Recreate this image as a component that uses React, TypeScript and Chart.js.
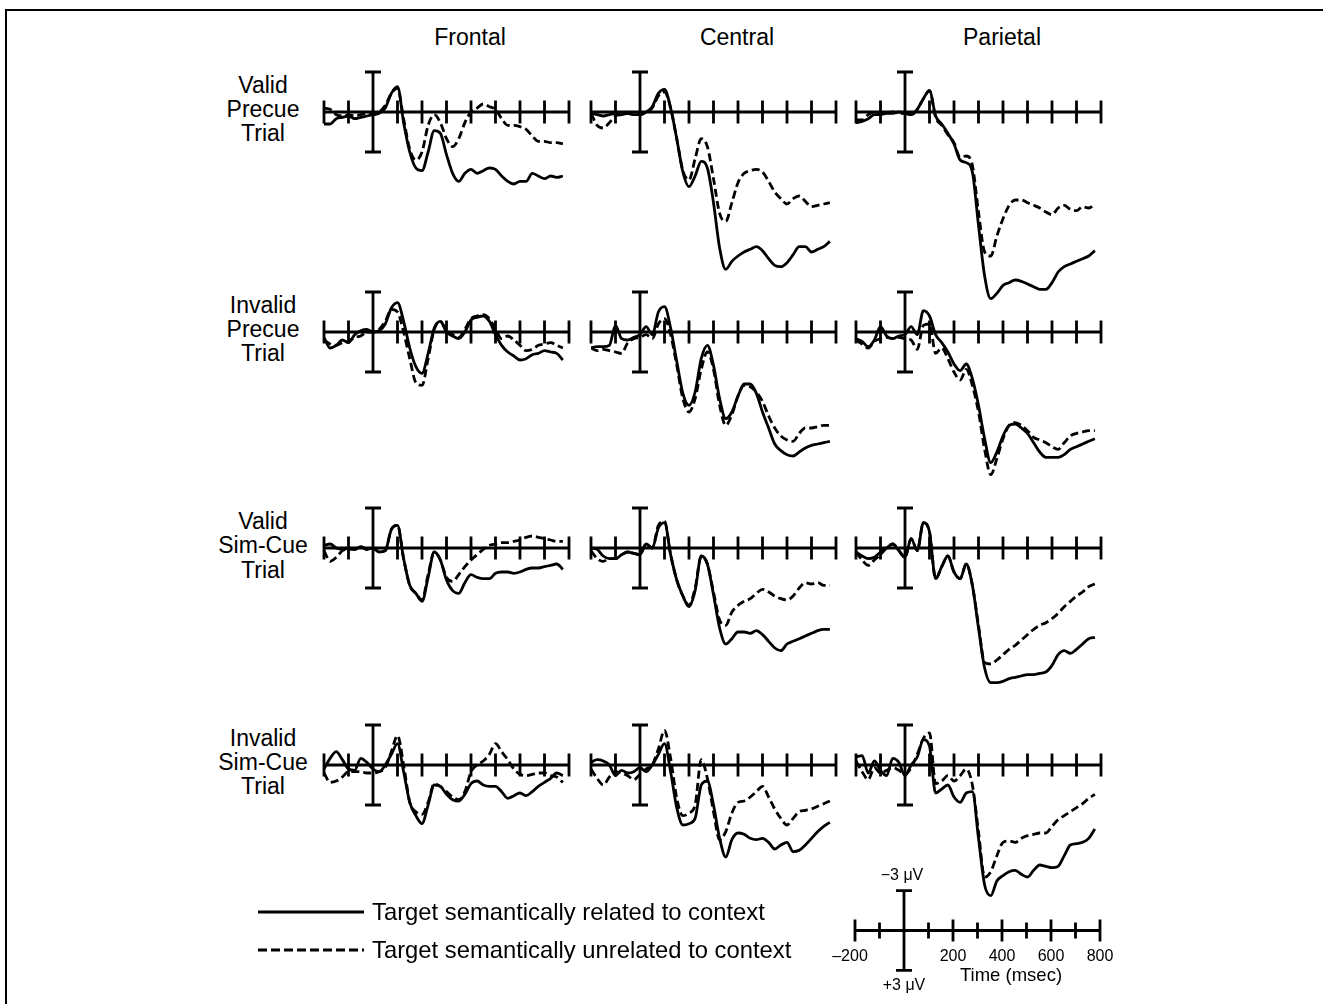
import React, { useEffect, useRef } from 'react';
import { Chart, registerables } from 'chart.js';

Chart.register(...registerables);

// ---------------- DATA ----------------
const TIMES = [-200, -175, -150, -125, -100, -75, -50, -25, 0, 25, 50, 75, 100, 125, 150, 175, 200, 225, 250, 275, 300, 325, 350, 375, 400, 425, 450, 475, 500, 525, 550, 575, 600, 625, 650, 675, 700, 725, 750, 775];
const AXIS_TICKS = [-200, -100, 100, 200, 300, 400, 500, 600, 700, 800];
const SCALE_TICK_LABELS = [-200, 200, 400, 600, 800];
const COLUMN_TITLES = ['Frontal', 'Central', 'Parietal'];
const ROW_TITLES = [
  ['Valid', 'Precue', 'Trial'],
  ['Invalid', 'Precue', 'Trial'],
  ['Valid', 'Sim-Cue', 'Trial'],
  ['Invalid', 'Sim-Cue', 'Trial'],
];
const LEGEND_LABELS = ['Target semantically related to context', 'Target semantically unrelated to context'];

// values in microvolts (negative plotted upward)
const R1F_REL = [0.9, 0.9, 0.5, 0.4, 0.3, 0.5, 0.4, 0.3, 0.2, 0.1, -0.3, -1.4, -1.9, 0.8, 3.0, 4.2, 4.4, 3.0, 1.4, 1.6, 3.2, 4.6, 5.2, 4.6, 4.3, 4.6, 4.4, 4.2, 4.3, 4.8, 5.2, 5.4, 5.2, 5.2, 4.6, 4.8, 5.0, 4.8, 4.9, 4.8];
const R1F_UNREL = [-0.3, -0.2, 0.2, 0.3, 0.2, 0.3, 0.2, 0.1, 0.2, 0.0, -0.5, -1.4, -1.8, 0.5, 2.8, 3.6, 3.0, 1.0, 0.2, 0.8, 2.0, 2.6, 2.0, 0.8, 0.0, -0.3, -0.6, -0.4, -0.2, 0.5, 1.0, 1.0, 1.1, 1.3, 1.8, 2.2, 2.2, 2.3, 2.3, 2.4];
const R1C_REL = [0.1, 0.2, 0.3, 0.2, 0.1, 0.2, 0.1, 0.2, 0.2, 0.0, -0.4, -1.4, -1.7, -0.3, 2.0, 4.5, 5.6, 4.8, 3.7, 4.2, 6.8, 10.2, 11.8, 11.2, 10.8, 10.5, 10.3, 10.1, 10.4, 11.0, 11.5, 11.6, 11.3, 10.7, 10.1, 10.1, 10.5, 10.3, 10.1, 9.7];
const R1C_UNREL = [0.1, 1.0, 1.2, 0.8, 0.3, 0.2, 0.1, 0.2, 0.2, 0.0, -0.3, -1.2, -1.5, -0.3, 2.0, 4.4, 5.1, 3.5, 2.0, 2.6, 5.0, 7.6, 8.2, 6.8, 5.3, 4.6, 4.4, 4.3, 4.5, 5.2, 6.0, 6.5, 6.9, 6.5, 6.3, 6.7, 7.1, 7.0, 6.9, 6.8];
const R1P_REL = [0.8, 0.7, 0.5, 0.2, 0.2, 0.1, 0.1, 0.0, 0.1, 0.2, -0.2, -1.0, -1.6, 0.3, 0.9, 1.6, 2.4, 3.6, 3.8, 4.5, 8.5, 12.3, 14.0, 13.6, 13.0, 12.8, 12.6, 12.7, 12.9, 13.1, 13.3, 13.3, 12.8, 12.0, 11.6, 11.4, 11.2, 11.0, 10.8, 10.4];
const R1P_UNREL = [0.6, 0.6, 0.2, 0.0, 0.1, 0.1, 0.0, 0.1, 0.1, 0.2, -0.2, -1.0, -1.6, 0.4, 1.0, 1.7, 2.3, 3.4, 3.3, 4.0, 7.5, 10.5, 10.8, 9.3, 8.0, 7.0, 6.6, 6.6, 6.8, 7.0, 7.2, 7.5, 7.7, 7.2, 7.0, 7.3, 7.4, 7.1, 7.2, 6.9];

const R2F_REL = [0.4, 1.2, 1.0, 0.6, 0.8, 0.2, -0.1, -0.2, 0.0, -0.1, -0.6, -1.8, -2.2, -0.8, 1.2, 2.6, 3.1, 1.6, -0.3, -0.8, 0.0, 0.3, 0.5, 0.0, -0.9, -1.1, -1.2, -0.8, 0.2, 1.0, 1.5, 1.8, 2.1, 2.0, 1.7, 1.6, 1.4, 1.5, 1.6, 2.1];
const R2F_UNREL = [0.6, 0.9, 1.0, 0.8, 0.7, 0.4, 0.3, 0.0, 0.0, -0.2, -0.8, -1.7, -1.5, 0.0, 2.0, 3.8, 4.0, 2.0, -0.2, -0.8, -0.1, 0.2, 0.4, -0.2, -1.0, -1.2, -1.3, -1.0, -0.2, 0.5, 0.3, 0.6, 1.0, 1.4, 1.3, 1.0, 0.9, 0.8, 1.0, 1.2];
const R2C_REL = [1.2, 1.1, 1.1, 1.0, -0.5, 0.5, 0.6, 0.4, 0.2, -0.4, 0.2, -1.5, -1.9, -0.3, 2.2, 4.6, 5.5, 4.5, 2.0, 1.0, 2.5, 5.0, 6.5, 6.0, 4.8, 3.9, 3.9, 4.6, 6.0, 7.2, 8.4, 8.9, 9.2, 9.3, 9.0, 8.7, 8.5, 8.4, 8.3, 8.2];
const R2C_UNREL = [1.2, 1.4, 1.3, 1.4, 1.5, 1.6, 0.8, 0.5, 0.4, 0.2, 0.5, -0.6, -1.0, 0.2, 2.5, 5.0, 6.0, 5.0, 2.8, 1.5, 2.8, 5.5, 7.0, 6.2, 4.8, 4.0, 4.1, 4.5, 5.2, 6.3, 7.2, 7.8, 8.1, 8.2, 7.6, 7.2, 7.2, 7.1, 7.0, 7.0];
const R2P_REL = [0.5, 0.7, 1.1, 0.6, -0.4, 0.3, 0.5, 0.3, 0.2, -0.4, 0.2, -1.6, -1.2, 0.2, 0.8, 1.5, 2.4, 2.9, 2.4, 3.5, 5.5, 8.0, 9.8, 9.0, 7.8, 7.0, 6.9, 7.2, 7.6, 8.3, 9.0, 9.4, 9.4, 9.4, 9.2, 8.8, 8.6, 8.4, 8.2, 8.0];
const R2P_UNREL = [0.6, 0.9, 1.2, 0.7, 0.5, 0.4, 0.5, 0.4, 0.5, 0.6, 1.3, -0.5, -0.6, 1.6, 1.2, 2.0, 3.0, 3.6, 2.8, 4.0, 6.0, 8.8, 10.7, 9.5, 8.0, 7.0, 6.8, 7.0, 7.4, 7.9, 8.1, 8.3, 8.6, 8.8, 8.3, 7.8, 7.6, 7.5, 7.4, 7.4];

const R3F_REL = [-0.2, -0.3, 0.0, 0.1, 0.0, 0.1, -0.1, 0.1, 0.0, 0.3, 0.2, -1.4, -1.7, 0.8, 2.8, 3.4, 4.0, 2.2, 0.3, 0.9, 2.4, 3.2, 3.4, 2.6, 2.0, 2.2, 2.3, 2.3, 1.9, 1.8, 1.8, 1.9, 1.8, 1.6, 1.5, 1.5, 1.4, 1.3, 1.2, 1.6];
const R3F_UNREL = [0.2, 1.0, 0.7, 0.2, 0.1, 0.1, -0.1, 0.1, 0.0, 0.3, 0.2, -1.4, -1.7, 0.8, 2.8, 3.4, 3.9, 2.0, 0.3, 0.9, 2.2, 2.5, 2.0, 1.4, 0.9, 0.5, 0.1, -0.2, -0.3, -0.4, -0.4, -0.5, -0.6, -0.8, -0.9, -0.8, -0.7, -0.6, -0.5, -0.5];
const R3C_REL = [0.0, 0.1, 0.6, 0.8, 0.8, 0.5, 0.3, 0.4, 0.5, -0.3, 0.0, -1.5, -1.9, 0.5, 2.4, 3.6, 4.4, 3.2, 0.6, 1.2, 3.5, 6.0, 7.2, 6.8, 6.3, 6.3, 6.4, 6.2, 6.5, 7.0, 7.5, 7.7, 7.2, 7.0, 6.8, 6.6, 6.4, 6.2, 6.1, 6.1];
const R3C_UNREL = [0.2, 0.8, 1.0, 0.8, 0.8, 0.5, 0.3, 0.4, 0.5, -0.3, 0.0, -1.7, -2.0, 0.5, 2.4, 3.6, 4.3, 3.0, 0.6, 1.2, 3.3, 5.4, 5.8, 4.8, 4.3, 4.0, 3.8, 3.4, 3.1, 3.3, 3.6, 3.8, 3.9, 3.6, 3.0, 2.6, 2.7, 2.6, 2.8, 2.8];
const R3P_REL = [0.3, 0.6, 0.8, 0.7, 0.3, 0.0, -0.3, 0.2, 0.7, -0.7, 0.2, -1.9, -1.2, 2.3, 1.4, 0.6, 1.8, 2.3, 1.2, 2.8, 6.0, 9.0, 10.1, 10.1, 10.0, 9.8, 9.7, 9.6, 9.5, 9.5, 9.4, 9.3, 8.8, 8.0, 7.7, 7.9, 7.6, 7.2, 6.8, 6.7];
const R3P_UNREL = [0.3, 0.9, 1.3, 0.9, 0.5, 0.0, -0.3, 0.2, 0.7, -0.7, 0.2, -1.9, -1.2, 2.3, 1.4, 0.6, 1.8, 2.3, 1.2, 2.8, 5.8, 8.6, 8.7, 8.4, 8.0, 7.6, 7.3, 6.9, 6.5, 6.1, 5.8, 5.6, 5.3, 4.9, 4.4, 4.0, 3.6, 3.3, 2.9, 2.7];

const R4F_REL = [0.3, -0.5, -1.0, -0.4, 0.3, 0.4, -0.5, -0.2, 0.3, 0.5, 0.0, -0.8, -1.6, 0.5, 2.8, 3.8, 4.4, 3.0, 1.5, 1.6, 2.2, 2.6, 2.7, 2.2, 1.4, 1.2, 1.5, 1.6, 1.6, 2.0, 2.5, 2.3, 2.1, 2.3, 2.0, 1.6, 1.3, 1.0, 0.6, 0.8];
const R4F_UNREL = [0.6, 1.3, 1.2, 0.9, 0.5, 0.5, 0.5, 0.6, 0.6, 0.5, 0.2, -1.0, -2.2, 0.0, 2.8, 3.5, 3.7, 2.8, 1.4, 1.6, 2.0, 2.4, 2.6, 2.0, 0.5, 0.0, -0.3, -0.8, -1.6, -1.0, -0.4, 0.3, 0.7, 0.8, 0.7, 0.6, 0.6, 0.8, 0.9, 1.3];
const R4C_REL = [-0.2, -0.4, -0.3, 0.0, 0.8, 0.4, 0.6, 0.5, 0.2, 0.5, 0.0, -0.8, -1.6, 0.5, 3.2, 4.5, 4.4, 4.0, 1.5, 1.2, 3.0, 5.5, 6.9, 5.6, 5.1, 5.2, 5.5, 5.6, 5.5, 5.8, 6.3, 6.0, 5.8, 6.5, 6.4, 6.0, 5.5, 5.0, 4.6, 4.3];
const R4C_UNREL = [0.3, 1.0, 1.5, 0.9, 0.5, 0.6, 0.8, 1.1, 0.7, 0.3, 0.0, -1.2, -2.6, -0.5, 2.5, 3.8, 3.6, 3.0, -0.4, 1.0, 3.5, 5.6, 5.0, 3.6, 2.8, 2.7, 2.4, 2.0, 1.6, 2.4, 3.3, 4.0, 4.5, 4.0, 3.5, 3.4, 3.3, 3.1, 2.9, 2.7];
const R4P_REL = [-0.6, -0.7, 0.6, -0.3, 0.4, 0.8, -0.5, -0.2, 0.8, 0.0, -0.6, -1.9, -1.4, 2.1, 1.8, 1.5, 2.4, 2.8, 2.1, 2.0, 5.5, 9.0, 9.8, 8.7, 8.3, 8.0, 7.9, 8.2, 8.4, 7.9, 7.5, 7.6, 7.7, 7.6, 6.8, 6.0, 5.9, 5.8, 5.5, 4.8];
const R4P_UNREL = [-0.3, 0.5, 1.1, 0.2, 0.6, 0.4, 0.2, 0.4, 0.7, 0.2, -0.8, -2.0, -2.4, 1.4, 1.2, 0.8, 1.2, 0.8, 0.3, 1.5, 5.0, 8.4, 8.0, 6.8, 5.8, 5.7, 5.8, 5.5, 5.3, 5.2, 5.1, 5.1, 4.6, 4.1, 3.8, 3.5, 3.2, 2.9, 2.5, 2.2];

const PANELS = [
  [[R1F_REL, R1F_UNREL], [R1C_REL, R1C_UNREL], [R1P_REL, R1P_UNREL]],
  [[R2F_REL, R2F_UNREL], [R2C_REL, R2C_UNREL], [R2P_REL, R2P_UNREL]],
  [[R3F_REL, R3F_UNREL], [R3C_REL, R3C_UNREL], [R3P_REL, R3P_UNREL]],
  [[R4F_REL, R4F_UNREL], [R4C_REL, R4C_UNREL], [R4P_REL, R4P_UNREL]],
];

// ---------------- LAYOUT ----------------
const FONT = '"Liberation Sans", Arial, Helvetica, sans-serif';
const PX_PER_MS = 0.245;
const PX_PER_UV = 40 / 3;
const COL_LEFT = [324, 591, 856];
const ROW_AXIS_Y = [111.5, 331.5, 548, 764.5];
const COL_TITLE_X = [470, 737, 1002];
const ROW_LABEL_X = 263;
const LINE_W = 2.8;

const axesPlugin = {
  id: 'erpAxes',
  afterDatasetsDraw(chart: any) {
    const { ctx } = chart;
    const xs = chart.scales.x;
    const ys = chart.scales.y;
    const isScale = chart.options.plugins.erpAxes?.scaleLegend;
    const y0 = ys.getPixelForValue(0);
    ctx.save();
    ctx.strokeStyle = '#000';
    ctx.lineWidth = LINE_W;
    ctx.lineCap = 'butt';
    ctx.beginPath();
    ctx.moveTo(xs.getPixelForValue(-200) - 1, y0);
    ctx.lineTo(xs.getPixelForValue(800) + 1, y0);
    AXIS_TICKS.forEach((t) => {
      const x = xs.getPixelForValue(t);
      const h = isScale ? (t % 200 === 0 ? 11 : 8) : 11.5;
      ctx.moveTo(x, y0 - h);
      ctx.lineTo(x, y0 + h);
    });
    const x0 = xs.getPixelForValue(0);
    const yt = ys.getPixelForValue(-3);
    const yb = ys.getPixelForValue(3);
    ctx.moveTo(x0, yt);
    ctx.lineTo(x0, yb);
    ctx.moveTo(x0 - 8, yt);
    ctx.lineTo(x0 + 8, yt);
    ctx.moveTo(x0 - 8, yb);
    ctx.lineTo(x0 + 8, yb);
    ctx.stroke();
    if (isScale) {
      ctx.fillStyle = '#000';
      ctx.textAlign = 'center';
      ctx.textBaseline = 'middle';
      ctx.font = `16px ${FONT}`;
      SCALE_TICK_LABELS.forEach((t) => {
        const label = t < 0 ? '\u2013' + Math.abs(t) : String(t);
        const dx = t < 0 ? -5 : 0;
        ctx.fillText(label, xs.getPixelForValue(t) + dx, y0 + 26);
      });
      ctx.font = `16px ${FONT}`;
      ctx.fillText('\u22123 \u03bcV', x0 - 2, yt - 15);
      ctx.fillText('+3 \u03bcV', x0, yb + 15);
    }
    ctx.restore();
  },
};

type PanelProps = {
  left: number;
  axisY: number;
  related?: number[];
  unrelated?: number[];
  yMin: number;
  yMax: number;
  pad: number;
  scaleLegend?: boolean;
};

function Panel({ left, axisY, related, unrelated, yMin, yMax, pad, scaleLegend }: PanelProps) {
  const ref = useRef<HTMLCanvasElement | null>(null);
  const width = Math.round(1000 * PX_PER_MS) + 2 * pad;
  const height = Math.round((yMax - yMin) * PX_PER_UV);
  useEffect(() => {
    if (!ref.current) return;
    const datasets: any[] = [];
    if (unrelated) {
      datasets.push({
        label: LEGEND_LABELS[1],
        data: TIMES.map((t, i) => ({ x: t, y: unrelated[i] })),
        borderColor: '#000',
        borderWidth: LINE_W,
        borderDash: [8, 4],
        pointRadius: 0,
        fill: false,
        cubicInterpolationMode: 'monotone',
      });
    }
    if (related) {
      datasets.push({
        label: LEGEND_LABELS[0],
        data: TIMES.map((t, i) => ({ x: t, y: related[i] })),
        borderColor: '#000',
        borderWidth: LINE_W,
        pointRadius: 0,
        fill: false,
        cubicInterpolationMode: 'monotone',
      });
    }
    const chart = new Chart(ref.current, {
      type: 'line',
      data: { datasets },
      options: {
        animation: false,
        responsive: false,
        devicePixelRatio: 1,
        events: [],
        layout: { padding: { left: pad, right: pad, top: 0, bottom: 0 } },
        plugins: {
          legend: { display: false },
          tooltip: { enabled: false },
          erpAxes: { scaleLegend: !!scaleLegend },
        } as any,
        scales: {
          x: { type: 'linear', min: -200, max: 800, display: false },
          y: { type: 'linear', min: yMin, max: yMax, reverse: true, display: false },
        },
      },
      plugins: [axesPlugin],
    });
    return () => chart.destroy();
  }, []);
  return (
    <canvas
      ref={ref}
      width={width}
      height={height}
      style={{
        position: 'absolute',
        left: left - pad,
        top: axisY + yMin * PX_PER_UV,
        width,
        height,
      }}
    />
  );
}

const textStyle = (cx: number, cy: number, size: number): React.CSSProperties => ({
  position: 'absolute',
  left: cx,
  top: cy,
  transform: 'translate(-50%, -50%)',
  fontSize: size,
  lineHeight: 1,
  whiteSpace: 'nowrap',
  color: '#000',
});

export default function App() {
  return (
    <div
      style={{
        position: 'absolute',
        left: 0,
        top: 0,
        width: 1323,
        height: 1004,
        background: '#fff',
        overflow: 'hidden',
        fontFamily: FONT,
      }}
    >
      <div
        style={{
          position: 'absolute',
          left: 5,
          top: 9,
          width: 1330,
          height: 1010,
          borderTop: '2px solid #000',
          borderLeft: '2px solid #000',
        }}
      />
      {COLUMN_TITLES.map((t, i) => (
        <div key={t} style={textStyle(COL_TITLE_X[i], 37, 23)}>
          {t}
        </div>
      ))}
      {ROW_TITLES.map((lines, r) => (
        <div
          key={r}
          style={{
            position: 'absolute',
            left: ROW_LABEL_X,
            top: ROW_AXIS_Y[r] - 2,
            transform: 'translate(-50%, -50%)',
            fontSize: 23,
            lineHeight: '24.4px',
            textAlign: 'center',
            whiteSpace: 'nowrap',
          }}
        >
          {lines.map((l) => (
            <div key={l}>{l}</div>
          ))}
        </div>
      ))}
      {PANELS.map((row, r) =>
        row.map((p, c) => (
          <Panel
            key={`${r}-${c}`}
            left={COL_LEFT[c]}
            axisY={ROW_AXIS_Y[r]}
            related={p[0]}
            unrelated={p[1]}
            yMin={-4.5}
            yMax={15}
            pad={6}
          />
        ))
      )}
      {/* legend */}
      <svg style={{ position: 'absolute', left: 0, top: 0 }} width={1323} height={1004}>
        <line x1={258} y1={912} x2={364} y2={912} stroke="#000" strokeWidth={LINE_W} />
        <line x1={258} y1={950} x2={364} y2={950} stroke="#000" strokeWidth={LINE_W} strokeDasharray="9 4" />
      </svg>
      <div style={{ ...textStyle(372, 912, 23.8), transform: 'translate(0, -50%)' }}>{LEGEND_LABELS[0]}</div>
      <div style={{ ...textStyle(372, 950, 23.8), transform: 'translate(0, -50%)' }}>{LEGEND_LABELS[1]}</div>
      {/* calibration scale */}
      <Panel left={855} axisY={931} yMin={-5} yMax={5} pad={28} scaleLegend />
      <div style={textStyle(1011, 975, 18.5)}>Time (msec)</div>
    </div>
  );
}
